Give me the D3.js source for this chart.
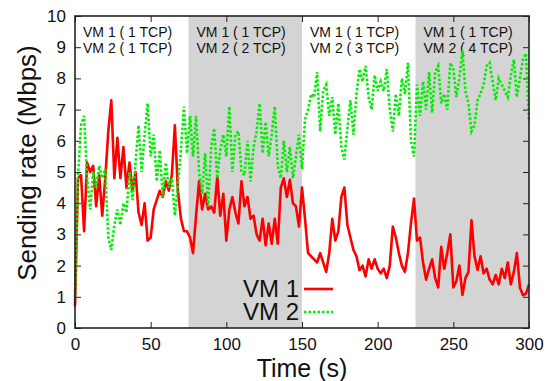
<!DOCTYPE html>
<html>
<head>
<meta charset="utf-8">
<script src="https://cdn.jsdelivr.net/npm/d3@7"></script>
<style>
  body { margin: 0; background: #fff; }
  text { font-family: "Liberation Sans", Arial, Helvetica, sans-serif; fill: #111; }
</style>
</head>
<body>
<svg id="chart"></svg>
<script>
// sampling step of both series (seconds)
const step = 2;

// VM 1 sending rate (Mbps), one value every 2 s from t = 0
const vm1Rate = [
  0.7, 4.8, 4.9, 3.1, 5.3, 5.0, 5.2, 3.9, 4.9, 3.6,
  4.8, 6.3, 7.3, 4.8, 6.1, 4.8, 5.8, 4.5, 5.3, 4.4,
  5.0, 3.7, 3.3, 4.0, 2.8, 2.9, 3.8, 4.1, 4.4, 4.2,
  4.7, 4.4, 4.9, 6.5, 4.4, 3.5, 3.1, 3.1, 2.9, 2.4,
  3.6, 4.7, 3.8, 4.3, 3.8, 3.9, 3.7, 4.85, 3.6, 4.3,
  2.8, 3.8, 4.2, 3.7, 3.35, 4.7, 3.9, 4.2, 3.5, 3.6,
  3.0, 2.8, 3.5, 2.65, 3.35, 2.7, 3.5, 2.7, 4.5, 4.8,
  4.2, 4.75, 4.0, 3.9, 3.25, 4.5, 3.5, 2.4, 2.3, 2.2,
  2.1, 2.4, 2.1, 1.8, 2.4, 3.5, 2.8, 3.1, 4.2, 4.5,
  3.3, 2.9, 2.5, 2.3, 1.85, 2.0, 1.65, 2.2, 1.9, 2.2,
  1.9, 1.75, 1.9, 1.6, 2.0, 3.25, 2.9, 2.4, 2.0, 1.8,
  2.4, 3.35, 4.15, 2.8, 2.9, 2.1, 1.55, 1.9, 2.2, 1.6,
  1.3, 2.6, 1.9, 2.4, 3.0, 1.3, 1.5, 2.0, 1.06, 1.6,
  1.8, 3.45, 2.3, 1.86, 2.3, 1.75, 1.9, 1.55, 1.4, 1.7,
  1.4, 1.9, 1.6, 2.1, 1.4, 1.8, 2.4, 1.3, 1.05, 1.1,
  1.4
];

// VM 2 sending rate (Mbps), one value every 2 s from t = 0
const vm2Rate = [
  1.0, 4.9, 6.5, 6.8, 4.8, 3.8, 5.0, 4.5, 5.2, 4.8,
  5.1, 2.9, 2.5, 3.3, 3.8, 3.3, 4.0, 3.7, 5.0, 4.1,
  5.3, 6.5, 5.0, 6.2, 7.2, 5.5, 6.2, 4.7, 5.7, 4.2,
  5.3, 4.5, 4.8, 3.6, 4.6, 5.7, 7.1, 5.6, 6.8, 5.5,
  6.8, 5.0, 4.3, 5.6, 3.9, 5.8, 6.4, 4.8, 5.7, 6.2,
  5.5, 7.1, 5.0, 6.2, 6.3, 5.0, 4.9, 6.0, 4.7, 5.8,
  6.3, 7.2, 5.6, 6.6, 5.5, 6.2, 7.1, 5.2, 4.8, 6.0,
  5.0, 5.8, 4.8, 5.5, 6.2, 5.1, 6.7, 7.0, 7.5, 7.4,
  8.2, 6.3, 7.6, 7.8, 6.8, 7.4, 6.2, 7.2, 5.8, 5.4,
  6.4, 7.3, 6.2, 7.5, 8.3, 7.9, 8.4, 7.4, 7.0, 8.1,
  7.6, 7.9, 7.6, 8.3, 7.0, 6.3, 7.5, 6.8, 8.0, 7.5,
  8.5, 6.0, 5.5, 7.8, 6.8, 7.9, 7.0, 8.2, 6.9, 8.2,
  8.4, 7.2, 7.5, 7.0, 8.5, 8.3, 7.4, 8.0, 8.9, 7.6,
  7.2, 6.3, 6.5, 7.3, 7.5, 7.8, 8.4, 8.5, 7.9, 7.3,
  8.0, 7.8, 7.6, 7.4, 8.1, 8.6, 7.4, 8.0, 8.6, 8.8,
  6.6
];

// phases of the experiment
const phaseStart = [0, 75, 150, 225];
const phaseEnd = [75, 150, 225, 300];
const phaseVm1 = ["VM 1 ( 1 TCP)", "VM 1 ( 1 TCP)", "VM 1 ( 1 TCP)", "VM 1 ( 1 TCP)"];
const phaseVm2 = ["VM 2 ( 1 TCP)", "VM 2 ( 2 TCP)", "VM 2 ( 3 TCP)", "VM 2 ( 4 TCP)"];

const xTicks = [0, 50, 100, 150, 200, 250, 300];
const yTicks = [0, 1, 2, 3, 4, 5, 6, 7, 8, 9, 10];
const seriesNames = ["VM 1", "VM 2"];

const width = 551, height = 381;
const margin = { top: 16, right: 22, bottom: 53, left: 75 };
const innerW = width - margin.left - margin.right;
const innerH = height - margin.top - margin.bottom;

const svg = d3.select("#chart").attr("width", width).attr("height", height);
const g = svg.append("g").attr("transform", `translate(${margin.left},${margin.top})`);

const x = d3.scaleLinear().domain([0, 300]).range([0, innerW]);
const y = d3.scaleLinear().domain([0, 10]).range([innerH, 0]);

// grey bands for the 2nd and 4th phase
g.selectAll("rect.band")
  .data(phaseStart.filter((d, i) => i % 2 == 1))
  .enter().append("rect")
  .attr("class", "band")
  .attr("x", d => x(d))
  .attr("y", 0)
  .attr("width", d => x(phaseEnd[phaseStart.indexOf(d)]) - x(d))
  .attr("height", innerH)
  .attr("fill", "#d4d4d4");

// phase labels
phaseStart.forEach((s, i) => {
  const t = g.append("text")
    .attr("x", x(s) + 8)
    .attr("font-size", 14);
  t.append("tspan").attr("x", x(s) + 8).attr("y", 21).text(phaseVm1[i]);
  t.append("tspan").attr("x", x(s) + 8).attr("y", 37).text(phaseVm2[i]);
});

// axes, ticks pointing inwards on all four sides
const tickLen = 6;
g.append("g")
  .attr("transform", `translate(0,${innerH})`)
  .call(d3.axisBottom(x).tickValues(xTicks).tickSizeInner(-tickLen).tickSizeOuter(0).tickPadding(10))
  .call(a => a.select(".domain").remove())
  .call(a => a.selectAll("text").attr("font-size", 17).attr("font-family", "Liberation Sans, Arial, sans-serif").attr("fill", "#111"));

g.append("g")
  .call(d3.axisLeft(y).tickValues(yTicks).tickSizeInner(-tickLen).tickSizeOuter(0).tickPadding(9))
  .call(a => a.select(".domain").remove())
  .call(a => a.selectAll("text").attr("font-size", 17).attr("font-family", "Liberation Sans, Arial, sans-serif").attr("fill", "#111"));

g.append("g")
  .call(d3.axisTop(x).tickValues(xTicks).tickSizeInner(-tickLen).tickSizeOuter(0).tickFormat(""))
  .call(a => a.select(".domain").remove());

g.append("g")
  .attr("transform", `translate(${innerW},0)`)
  .call(d3.axisRight(y).tickValues(yTicks).tickSizeInner(-tickLen).tickSizeOuter(0).tickFormat(""))
  .call(a => a.select(".domain").remove());

g.selectAll(".tick line").attr("stroke", "#222");

// the two series
const line = d3.line()
  .x((d, i) => x(i * step))
  .y(d => y(d));

g.append("path")
  .datum(vm1Rate)
  .attr("fill", "none")
  .attr("stroke", "#ff0000")
  .attr("stroke-width", 2.6)
  .attr("stroke-linejoin", "round")
  .attr("d", line);

g.append("path")
  .datum(vm2Rate)
  .attr("fill", "none")
  .attr("stroke", "#00ee00")
  .attr("stroke-width", 2.6)
  .attr("stroke-dasharray", "2.5,2")
  .attr("d", line);

// frame
g.append("rect")
  .attr("width", innerW)
  .attr("height", innerH)
  .attr("fill", "none")
  .attr("stroke", "#222")
  .attr("stroke-width", 1.6);

// key
const key = g.append("g").attr("transform", `translate(${x(150) - 10},${y(1.25)})`);
seriesNames.forEach((name, i) => {
  key.append("text")
    .attr("x", 7)
    .attr("y", i * 23 + 8)
    .attr("text-anchor", "end")
    .attr("font-size", 24)
    .text(name);
  key.append("line")
    .attr("x1", 12).attr("x2", 41)
    .attr("y1", i * 23).attr("y2", i * 23)
    .attr("stroke", i == 0 ? "#ff0000" : "#00ee00")
    .attr("stroke-width", 2.6)
    .attr("stroke-dasharray", i == 0 ? null : "2.5,2");
});

// axis titles
svg.append("text")
  .attr("x", margin.left + innerW / 2)
  .attr("y", 377)
  .attr("text-anchor", "middle")
  .attr("font-size", 25)
  .text("Time (s)");

svg.append("text")
  .attr("transform", `translate(36,163) rotate(-90)`)
  .attr("text-anchor", "middle")
  .attr("font-size", 26)
  .text("Sending rate (Mbps)");
</script>
</body>
</html>
